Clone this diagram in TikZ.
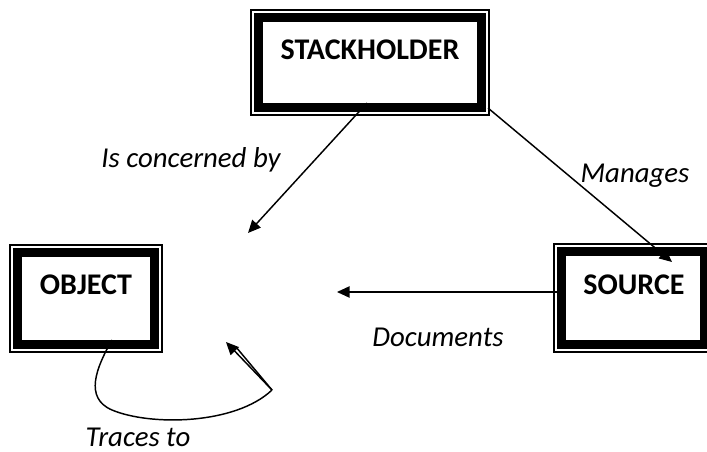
\documentclass[tikz,border=0pt]{standalone}
\usepackage{fontspec}
\setmainfont{Carlito}
\usetikzlibrary{arrows.meta}

\tikzset{
  every picture/.style={x=0.75pt,y=-0.75pt},
  framebox/.style={draw=black,line width=0.9pt,fill=white,inner sep=0pt},
  boxtitle/.style={font=\fontsize{22.5}{27}\selectfont\bfseries,inner sep=0pt},
  linklabel/.style={font=\fontsize{21.6}{26}\selectfont\itshape,inner sep=0pt},
  link/.style={draw=black,line width=1.1pt,-{Triangle[length=9.5pt,width=8.5pt]}},
  plainlink/.style={draw=black,line width=1.1pt}
}

% double frame: thin outer line, thick inner band
\newcommand{\thickband}[1]{%
  \draw[line width=6.5pt]
    ([shift={(8,8)}]#1.north west) rectangle ([shift={(-8,-8)}]#1.south east);}

\begin{document}
\begin{tikzpicture}
\useasboundingbox (0,0) rectangle (707,452);

% boxes
\node[framebox,minimum width=178.5pt,minimum height=78.75pt] (sh) at (370,62.5) {};
\thickband{sh}
\node[framebox,minimum width=114pt,minimum height=80.25pt] (ob) at (86,298.5) {};
\thickband{ob}
\node[framebox,minimum width=118.5pt,minimum height=81pt] (so) at (633,298) {};
\thickband{so}

\node[boxtitle] (shT) at (370,50) {STACKHOLDER};
\node[boxtitle] (obT) at (86,285) {OBJECT};
\node[boxtitle] (soT) at (634,285) {SOURCE};

% connector end points
\coordinate (shA) at (367,103);
\coordinate (obTarget) at (248,233);
\coordinate (shB) at (488,108);
\coordinate (soTarget) at (672,262);
\coordinate (soA) at (557,292);
\coordinate (docTarget) at (337,292);
\coordinate (obA) at (112,340);
\coordinate (loopLow) at (112,410);
\coordinate (loopEnd) at (272,390);
\coordinate (loopTip) at (226,342);
\coordinate (loopSide) at (236,347);

% connectors
\draw[link] (shA) -- (obTarget);
\draw[link] (shB) -- (soTarget);
\draw[link] (soA) -- (docTarget);
\draw[plainlink] (obA) .. controls (96,368) and (84,398) .. (loopLow)
  .. controls (150,426) and (235,425) .. (loopEnd);
\draw[plainlink] (loopEnd) -- (loopSide);
\draw[link] (loopEnd) -- (loopTip);

% labels
\node[linklabel] (l1) at (191,160) {Is concerned by};
\node[linklabel] (l2) at (635,176) {Manages};
\node[linklabel] (l3) at (438,337) {Documents};
\node[linklabel,anchor=base] (l4) at (138,446) {Traces to};
\end{tikzpicture}
\end{document}
